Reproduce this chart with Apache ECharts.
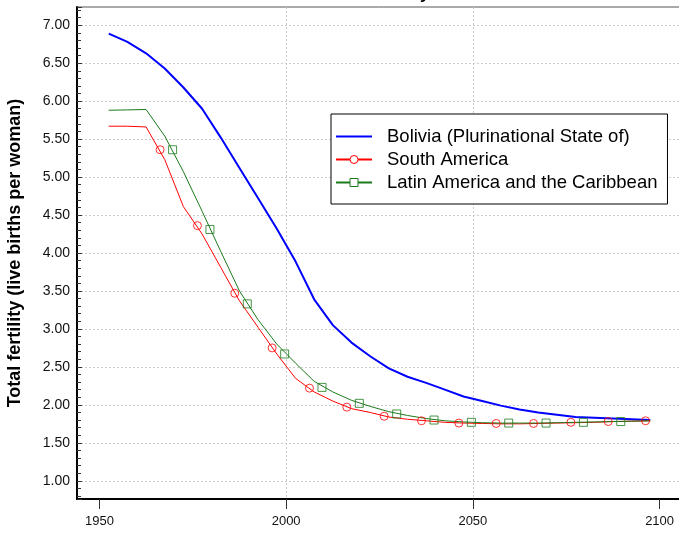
<!DOCTYPE html>
<html><head><meta charset="utf-8">
<script src="https://cdn.jsdelivr.net/npm/echarts@6/dist/echarts.min.js"></script>
<style>html,body{margin:0;padding:0;background:#fff}#c{width:679px;height:535px}</style>
</head><body><div id="c"></div>
<script>
// ---- data ----
const years = [1952.5, 1957.5, 1962.5, 1967.5, 1972.5, 1977.5, 1982.5, 1987.5, 1992.5, 1997.5,
  2002.5, 2007.5, 2012.5, 2017.5, 2022.5, 2027.5, 2032.5, 2037.5, 2042.5, 2047.5,
  2052.5, 2057.5, 2062.5, 2067.5, 2072.5, 2077.5, 2082.5, 2087.5, 2092.5, 2097.5];
const bolivia = [6.89, 6.78, 6.63, 6.43, 6.18, 5.90, 5.52, 5.12, 4.72, 4.32,
  3.89, 3.39, 3.05, 2.82, 2.64, 2.48, 2.37, 2.29, 2.20, 2.11,
  2.05, 1.99, 1.94, 1.90, 1.87, 1.84, 1.83, 1.82, 1.81, 1.80];
const southAmerica = [5.67, 5.67, 5.66, 5.23, 4.61, 4.25, 3.81, 3.37, 3.02, 2.67,
  2.35, 2.17, 2.05, 1.95, 1.90, 1.84, 1.81, 1.79, 1.77, 1.76,
  1.755, 1.75, 1.75, 1.755, 1.76, 1.765, 1.77, 1.78, 1.785, 1.79];
const latinAmerica = [5.88, 5.885, 5.89, 5.54, 5.07, 4.55, 4.02, 3.50, 3.12, 2.80,
  2.55, 2.31, 2.17, 2.06, 1.98, 1.91, 1.86, 1.82, 1.79, 1.775,
  1.765, 1.76, 1.76, 1.76, 1.765, 1.77, 1.775, 1.78, 1.785, 1.79];
// marker positions drawn along the thin lines
const saMarkerYears = [1966.25, 1976.25, 1986.25, 1996.25, 2006.25, 2016.25, 2026.25,
  2036.25, 2046.25, 2056.25, 2066.25, 2076.25, 2086.25, 2096.25];
const saMarkerVals = [5.36, 4.36, 3.47, 2.75, 2.22, 1.97, 1.85, 1.79, 1.76, 1.755, 1.755, 1.77, 1.78, 1.79];
const laMarkerYears = [1969.6, 1979.6, 1989.6, 1999.6, 2009.6, 2019.6, 2029.6,
  2039.6, 2049.6, 2059.6, 2069.6, 2079.6, 2089.6];
const laMarkerVals = [5.36, 4.31, 3.33, 2.67, 2.23, 2.02, 1.88, 1.80, 1.77, 1.76, 1.76, 1.77, 1.78];
const xTicks = [1950, 2000, 2050, 2100];
const seriesNames = ['Bolivia (Plurinational State of)', 'South America', 'Latin America and the Caribbean'];
const titleText = 'Total fertility';
const yAxisTitle = 'Total fertility (live births per woman)';

// ---- chart ----
const FONT = '"Liberation Sans", Arial, sans-serif';
const BLUE = '#0000ff', RED = '#ff0000', GREEN = '#1a7a1a';
const pair = (xs, ys) => xs.map((x, i) => [x, ys[i]]);
const chart = echarts.init(document.getElementById('c'), null, {renderer: 'canvas'});
const grid = {left: 77, top: 7, right: -3, bottom: 36, outerBoundsMode: 'none', containLabel: false,
  show: true, borderColor: '#555', borderWidth: 1, backgroundColor: 'transparent'};
const gridLine = {show: true, lineStyle: {type: [2, 2], color: '#cccccc', width: 1}, showMinLine: false, showMaxLine: false};
chart.setOption({
  animation: false,
  textStyle: {fontFamily: FONT},
  graphic: [{type: 'text', x: 379, y: 3, z: 100,
    style: {text: titleText, textAlign: 'center', textVerticalAlign: 'bottom', font: 'bold 17px ' + FONT, fill: '#000'}}],
  grid: grid,
  xAxis: {
    type: 'value', min: 1944, max: 2106, minInterval: 50, maxInterval: 50,
    axisLine: {onZero: false, lineStyle: {color: '#000', width: 2}},
    axisTick: {customValues: xTicks, length: 10, inside: false, lineStyle: {color: '#333', width: 1}},
    axisLabel: {customValues: xTicks, formatter: v => String(Math.round(v)), margin: 16, fontSize: 13, color: '#111', fontFamily: FONT},
    splitLine: gridLine
  },
  yAxis: {
    type: 'value', min: 0.76, max: 7.24, minInterval: 0.5, maxInterval: 0.5,
    name: yAxisTitle, nameLocation: 'middle', nameGap: 53,
    nameTextStyle: {fontWeight: 'bold', fontSize: 18, color: '#000', fontFamily: FONT},
    axisLine: {show: true, onZero: false, lineStyle: {color: '#000', width: 2}},
    axisTick: {show: true, inside: true, length: 5, lineStyle: {color: '#333', width: 1}},
    minorTick: {show: true, splitNumber: 5, length: 4, lineStyle: {color: '#333', width: 1}},
    axisLabel: {formatter: v => v.toFixed(2), showMinLabel: false, showMaxLabel: false, fontSize: 14, margin: 7, color: '#111', fontFamily: FONT},
    splitLine: gridLine
  },
  legend: {
    orient: 'vertical', left: 331, top: 114, padding: [13, 10, 12, 4], itemGap: 4,
    itemWidth: 36, itemHeight: 10, backgroundColor: '#fff', borderColor: '#000', borderWidth: 1,
    selectedMode: false, itemStyle: {borderWidth: 1},
    textStyle: {fontSize: 18.5, color: '#000', fontFamily: FONT, padding: [0, 0, 0, 10]},
    data: [{name: seriesNames[0], icon: 'path://M0,0H36V2H0Z'}, seriesNames[1], seriesNames[2]]
  },
  series: [
    {type: 'line', name: seriesNames[0], data: pair(years, bolivia), symbol: 'none', silent: true,
      lineStyle: {color: BLUE, width: 2}, itemStyle: {color: BLUE}, z: 3},
    {type: 'line', name: seriesNames[1], data: pair(years, southAmerica), symbol: 'circle', showSymbol: false, silent: true,
      lineStyle: {color: RED, width: 1}, itemStyle: {color: '#fff', borderColor: RED, borderWidth: 1}, z: 4},
    {type: 'line', name: seriesNames[2], data: pair(years, latinAmerica), symbol: 'rect', showSymbol: false, silent: true,
      lineStyle: {color: GREEN, width: 1}, itemStyle: {color: '#fff', borderColor: GREEN, borderWidth: 1}, z: 4},
    {type: 'scatter', name: 'saMarks', data: pair(saMarkerYears, saMarkerVals), symbol: 'circle', symbolSize: 8, silent: true,
      itemStyle: {color: 'transparent', borderColor: RED, borderWidth: 1}, z: 5},
    {type: 'scatter', name: 'laMarks', data: pair(laMarkerYears, laMarkerVals), symbol: 'rect', symbolSize: 8, silent: true,
      itemStyle: {color: 'transparent', borderColor: GREEN, borderWidth: 1}, z: 5}
  ]
});
</script>
</body></html>
